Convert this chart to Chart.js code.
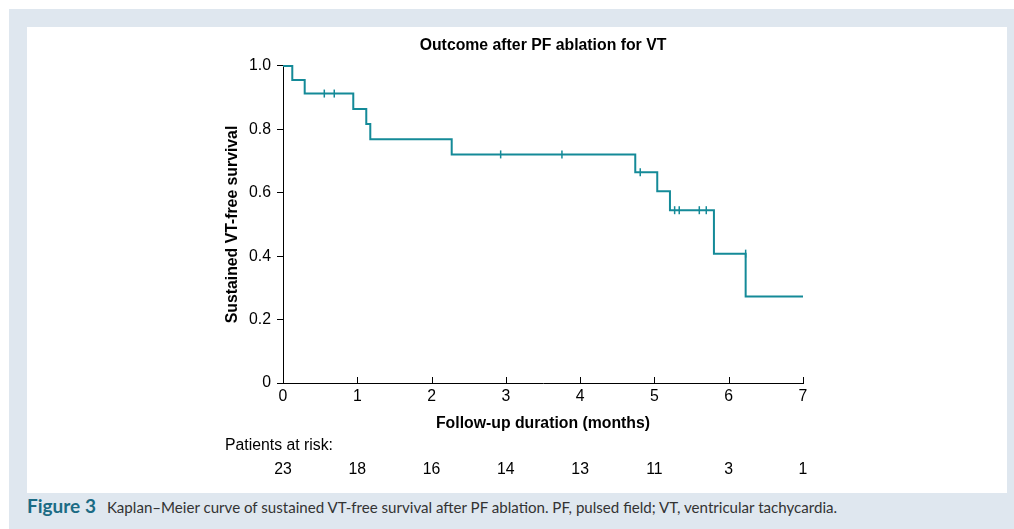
<!DOCTYPE html>
<html>
<head>
<meta charset="utf-8">
<script src="https://cdn.jsdelivr.net/npm/chart.js@4/dist/chart.umd.min.js"></script>
<style>
  html, body { margin: 0; padding: 0; background: #ffffff; }
  #wrap { position: relative; width: 1014px; height: 529px; overflow: hidden; background: #ffffff; }
  #panel { position: absolute; left: 9px; top: 9px; width: 1005px; height: 520px; background: #dfe7ef; }
  #inner { position: absolute; left: 27px; top: 27px; width: 980px; height: 466px; background: #ffffff; }
  #caption { position: absolute; left: 27px; top: 494px; font-family: Lato, "Open Sans", sans-serif; font-size: 15.1px; color: #333333; white-space: nowrap; }
  #caption b { color: #1b6b84; font-size: 19px; font-weight: 700; margin-right: 11px; }
  #chart { position: absolute; left: 0; top: 0; }
</style>
</head>
<body>
<div id="wrap">
  <div id="panel"></div>
  <div id="inner"></div>
  <div id="caption"><b>Figure 3</b>Kaplan–Meier curve of sustained VT-free survival after PF ablation. PF, pulsed field; VT, ventricular tachycardia.</div>
  <canvas id="chart" width="1014" height="529"></canvas>
</div>
<script>
// Kaplan–Meier step curve (time in months, survival after each event)
const eventTimes = [0, 0.125, 0.292, 0.946, 1.121, 1.175, 2.271, 4.742, 5.038, 5.209, 5.801, 6.228, 7.0];
const survival   = [1.0, 0.956, 0.913, 0.864, 0.817, 0.769, 0.721, 0.665, 0.605, 0.545, 0.408, 0.273, 0.273];
// Censor marks
const censorTimes  = [0.556, 0.690, 2.930, 3.755, 4.809, 5.272, 5.334, 5.604, 5.698, 6.228];
const censorValues = [0.913, 0.913, 0.721, 0.721, 0.665, 0.545, 0.545, 0.545, 0.545, 0.408];
// Axes
const xTickValues = [0, 1, 2, 3, 4, 5, 6, 7];
const yTickLabels = ['0', '0.2', '0.4', '0.6', '0.8', '1.0'];
// Patients at risk at each x tick
const atRisk = [23, 18, 16, 14, 13, 11, 3, 1];

const curveColor = '#148a98';
const FONT = '"Liberation Sans", Arial, Helvetica, sans-serif';
const FS = 15.8;

const kmData = eventTimes.map((t, i) => ({ x: t, y: survival[i] }));
const censorData = censorTimes.map((t, i) => ({ x: t, y: censorValues[i] }));

const extrasPlugin = {
  id: 'extras',
  afterDraw(chart) {
    const ctx = chart.ctx;
    const xs = chart.scales.x;
    const area = chart.chartArea;
    ctx.save();
    // inward x tick marks
    ctx.strokeStyle = '#000';
    ctx.lineWidth = 1;
    xTickValues.forEach(v => {
      const px = Math.round(xs.getPixelForValue(v)) + 0.5;
      ctx.beginPath();
      ctx.moveTo(px, area.bottom);
      ctx.lineTo(px, area.bottom - 6);
      ctx.stroke();
    });
    // risk table
    ctx.fillStyle = '#000';
    ctx.font = FS + 'px ' + FONT;
    ctx.textBaseline = 'middle';
    ctx.textAlign = 'left';
    ctx.fillText('Patients at risk:', area.left - 58, 446);
    ctx.textAlign = 'center';
    atRisk.forEach((n, i) => {
      ctx.fillText(String(n), xs.getPixelForValue(xTickValues[i]), 470);
    });
    ctx.restore();
  }
};

new Chart(document.getElementById('chart'), {
  type: 'line',
  data: {
    datasets: [
      {
        type: 'line',
        data: kmData,
        stepped: true,
        borderColor: curveColor,
        borderWidth: 2,
        pointRadius: 0,
        fill: false,
        clip: 5
      },
      {
        type: 'scatter',
        data: censorData,
        pointStyle: 'line',
        rotation: 90,
        radius: 4,
        borderColor: curveColor,
        borderWidth: 1.5,
        backgroundColor: curveColor,
        clip: 5
      }
    ]
  },
  options: {
    responsive: false,
    animation: false,
    layout: { padding: { top: 0, left: 0, right: 211, bottom: 0 } },
    plugins: {
      legend: { display: false },
      tooltip: { enabled: false },
      title: {
        display: true,
        text: 'Outcome after PF ablation for VT',
        color: '#000',
        fullSize: false,
        font: { family: FONT, size: FS, weight: 'bold', lineHeight: 1.2 },
        padding: { top: 36, bottom: 11 }
      }
    },
    scales: {
      x: {
        type: 'linear',
        min: 0,
        max: 7,
        afterFit(scale) { scale.height = 146; },
        afterBuildTicks(scale) { scale.ticks = xTickValues.map(v => ({ value: v })); },
        border: { display: true, color: '#000', width: 1 },
        grid: { display: true, drawOnChartArea: false, drawTicks: false },
        ticks: { color: '#000', padding: 4, font: { family: FONT, size: FS }, maxRotation: 0, autoSkip: false },
        title: {
          display: true,
          text: 'Follow-up duration (months)',
          color: '#000',
          font: { family: FONT, size: FS, weight: 'bold', lineHeight: 1.2 },
          padding: { top: 0, bottom: 96 }
        }
      },
      y: {
        type: 'linear',
        min: 0,
        max: 1,
        afterFit(scale) { scale.width = 283; },
        border: { display: true, color: '#000', width: 1 },
        grid: { display: true, drawOnChartArea: false, drawTicks: true, tickLength: 6, color: '#000' },
        ticks: {
          color: '#000',
          stepSize: 0.2,
          padding: 6,
          font: { family: FONT, size: FS },
          callback: (v, i) => yTickLabels[i]
        },
        title: {
          display: true,
          text: 'Sustained VT-free survival',
          color: '#000',
          font: { family: FONT, size: FS, weight: 'bold', lineHeight: 1.2 },
          padding: { top: 223, bottom: 0 }
        }
      }
    }
  },
  plugins: [extrasPlugin]
});
</script>
</body>
</html>
